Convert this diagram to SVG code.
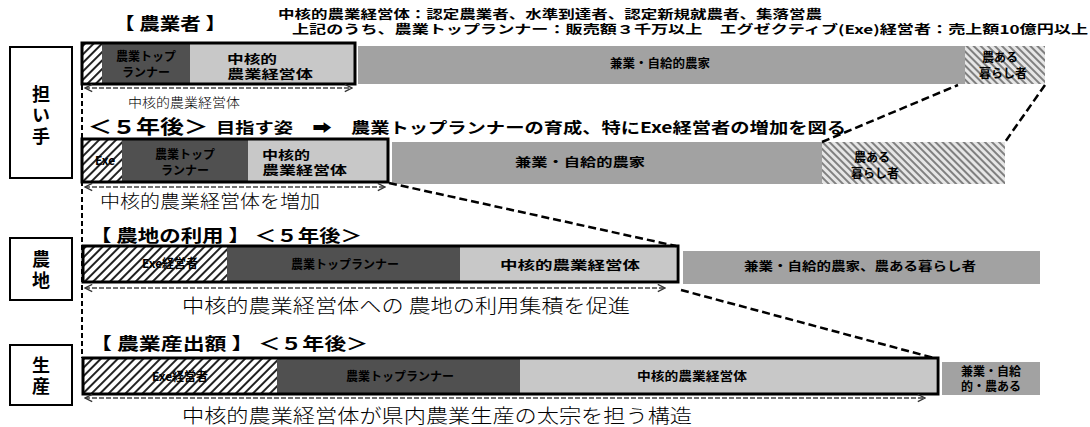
<svg xmlns="http://www.w3.org/2000/svg" width="1090" height="427" viewBox="0 0 1090 427">
<defs>
<pattern id="hatchF" width="6" height="6" patternUnits="userSpaceOnUse" patternTransform="rotate(45)"><rect width="6" height="6" fill="#fff"/><line x1="1" y1="0" x2="1" y2="6" stroke="#222" stroke-width="2"/></pattern>
<pattern id="hatchB" width="5" height="5" patternUnits="userSpaceOnUse" patternTransform="rotate(-45)"><rect width="5" height="5" fill="#e6e6e6"/><line x1="1" y1="0" x2="1" y2="5" stroke="#666" stroke-width="1.6"/></pattern>
<marker id="chev" viewBox="0 0 10 10" refX="9" refY="5" markerWidth="9" markerHeight="9" orient="auto-start-reverse" markerUnits="userSpaceOnUse"><polyline points="1,1 9,5 1,9" fill="none" stroke="#333" stroke-width="1.5"/></marker>
<style>
text{font-family:"Noto Sans CJK JP","Liberation Sans",sans-serif;fill:#000}
.b{font-weight:bold}
.lbl{font-weight:bold;font-size:12px;text-anchor:middle}
.lbs{font-weight:bold;font-size:12px}
.note{font-weight:300;text-anchor:start}
.box{fill:#fff;stroke:#000;stroke-width:2}
.frame{fill:none;stroke:#000;stroke-width:3}
.dark{fill:#505050}
.light{fill:#c8c8c8}
.mid{fill:#a2a2a2}
.hf{fill:url(#hatchF)}
.hb{fill:url(#hatchB)}
.arr{stroke:#444;stroke-width:1.3;stroke-dasharray:5 2;fill:none;marker-start:url(#chev);marker-end:url(#chev)}
.con{stroke:#000;stroke-width:2.5;stroke-dasharray:8 4;fill:none}
.vg{stroke:#000;stroke-width:2;stroke-dasharray:5 3;fill:none}
.side{font-weight:bold;font-size:18px;text-anchor:middle;writing-mode:vertical-rl;letter-spacing:3px}
</style>
</defs>

<g id="header">
<text class="b" x="114" y="30" font-size="17" textLength="112" lengthAdjust="spacingAndGlyphs">【 農業者 】</text>
<text class="b" x="278" y="19" font-size="12" textLength="544" lengthAdjust="spacingAndGlyphs">中核的農業経営体：認定農業者、水準到達者、認定新規就農者、集落営農</text>
<text class="b" x="292" y="34" font-size="12" textLength="796" lengthAdjust="spacingAndGlyphs">上記のうち、農業トップランナー：販売額３千万以上　エグゼクティブ(Exe)経営者：売上額10億円以上</text>
</g>

<g id="side-ninaite">
<rect class="box" x="10" y="47" width="62" height="131"/>
<text class="side" x="41" y="117">担い手</text>
</g>
<g id="side-nochi">
<rect class="box" x="10" y="238" width="62" height="62"/>
<text class="side" x="41" y="271">農地</text>
</g>
<g id="side-seisan">
<rect class="box" x="10" y="345" width="62" height="60"/>
<text class="side" x="41" y="377">生産</text>
</g>

<g id="bar-now">
<rect class="hf" x="83" y="44" width="19" height="39"/>
<rect class="dark" x="102" y="44" width="88" height="39"/>
<rect class="light" x="190" y="44" width="164" height="39"/>
<rect class="frame" x="82" y="43" width="273" height="41"/>
<text class="lbl" x="146" y="61">農業トップ</text>
<text class="lbl" x="146" y="77">ランナー</text>
<text class="lbs" x="227" y="64" textLength="50" lengthAdjust="spacingAndGlyphs">中核的</text>
<text class="lbs" x="227" y="79" textLength="86" lengthAdjust="spacingAndGlyphs">農業経営体</text>
<rect class="mid" x="358" y="46" width="607" height="38"/>
<rect class="hb" x="965" y="46" width="80" height="38"/>
<text class="lbl" x="660" y="68" textLength="100" lengthAdjust="spacingAndGlyphs">兼業・自給的農家</text>
<text class="lbl" x="1000" y="62">農ある</text>
<text class="lbl" x="1003" y="78">暮らし者</text>
</g>

<g id="caption-5y">
<text class="b" x="88" y="134" font-size="19" textLength="120" lengthAdjust="spacingAndGlyphs">＜５年後＞</text>
<text class="b" x="216" y="133" font-size="15" textLength="630" lengthAdjust="spacingAndGlyphs">目指す姿　➡　農業トップランナーの育成、特にExe経営者の増加を図る</text>
</g>

<g id="bar-5y">
<rect class="hf" x="83" y="140" width="39" height="41"/>
<rect class="dark" x="122" y="140" width="126" height="41"/>
<rect class="light" x="248" y="140" width="139" height="41"/>
<rect class="frame" x="82" y="139" width="306" height="43"/>
<text class="lbl" x="105" y="165" font-size="11">Exe</text>
<text class="lbl" x="185" y="159">農業トップ</text>
<text class="lbl" x="185" y="175">ランナー</text>
<text class="lbs" x="262" y="160" textLength="48" lengthAdjust="spacingAndGlyphs">中核的</text>
<text class="lbs" x="262" y="175" textLength="85" lengthAdjust="spacingAndGlyphs">農業経営体</text>
<rect class="mid" x="392" y="142" width="430" height="42"/>
<rect class="hb" x="822" y="142" width="183" height="42"/>
<text class="lbl" x="580" y="167" textLength="130" lengthAdjust="spacingAndGlyphs">兼業・自給的農家</text>
<text class="lbl" x="872" y="162">農ある</text>
<text class="lbl" x="875" y="178">暮らし者</text>
</g>

<g id="caption-land">
<text class="b" x="90" y="242" font-size="17" textLength="272" lengthAdjust="spacingAndGlyphs">【 農地の利用 】 ＜５年後＞</text>
</g>
<g id="bar-land">
<rect class="hf" x="84" y="247" width="143" height="34"/>
<rect class="dark" x="227" y="247" width="233" height="34"/>
<rect class="light" x="460" y="247" width="216" height="34"/>
<rect class="frame" x="83" y="246" width="595" height="36"/>
<text class="lbl" x="170" y="268">Exe経営者</text>
<text class="lbl" x="345" y="269">農業トップランナー</text>
<text class="lbl" x="570" y="270" textLength="140" lengthAdjust="spacingAndGlyphs">中核的農業経営体</text>
<rect class="mid" x="683" y="251" width="357" height="33"/>
<text class="lbl" x="860" y="271" textLength="232" lengthAdjust="spacingAndGlyphs">兼業・自給的農家、農ある暮らし者</text>
</g>

<g id="caption-prod">
<text class="b" x="90" y="350" font-size="17" textLength="278" lengthAdjust="spacingAndGlyphs">【 農業産出額 】 ＜５年後＞</text>
</g>
<g id="bar-prod">
<rect class="hf" x="84" y="359" width="193" height="34"/>
<rect class="dark" x="277" y="359" width="243" height="34"/>
<rect class="light" x="520" y="359" width="416" height="34"/>
<rect class="frame" x="83" y="358" width="855" height="36"/>
<text class="lbl" x="180" y="381">Exe経営者</text>
<text class="lbl" x="400" y="381">農業トップランナー</text>
<text class="lbl" x="692" y="381" textLength="110" lengthAdjust="spacingAndGlyphs">中核的農業経営体</text>
<rect class="mid" x="942" y="362" width="98" height="33"/>
<text class="lbl" x="991" y="376">兼業・自給</text>
<text class="lbl" x="991" y="391">的・農ある</text>
</g>

<g id="connectors">
<line class="vg" x1="82" y1="85" x2="82" y2="358"/>
<line class="arr" x1="85" y1="88" x2="352" y2="88"/>
<line class="arr" x1="85" y1="187" x2="385" y2="187"/>
<line class="arr" x1="85" y1="288" x2="665" y2="288"/>
<line class="arr" x1="85" y1="398" x2="925" y2="398"/>
<line class="con" x1="822" y1="142" x2="958" y2="85"/>
<line class="con" x1="1045" y1="85" x2="1005" y2="142"/>
<line class="con" x1="389" y1="183" x2="676" y2="246"/>
<line class="con" x1="681" y1="290" x2="934" y2="358"/>
</g>

<g id="notes">
<text class="note" x="128" y="107" font-size="13" textLength="112" lengthAdjust="spacingAndGlyphs">中核的農業経営体</text>
<text class="note" x="100" y="208" font-size="18" textLength="220" lengthAdjust="spacingAndGlyphs">中核的農業経営体を増加</text>
<text class="note" x="182" y="313" font-size="19" textLength="448" lengthAdjust="spacingAndGlyphs">中核的農業経営体への 農地の利用集積を促進</text>
<text class="note" x="182" y="423" font-size="19" textLength="510" lengthAdjust="spacingAndGlyphs">中核的農業経営体が県内農業生産の太宗を担う構造</text>
</g>
</svg>
